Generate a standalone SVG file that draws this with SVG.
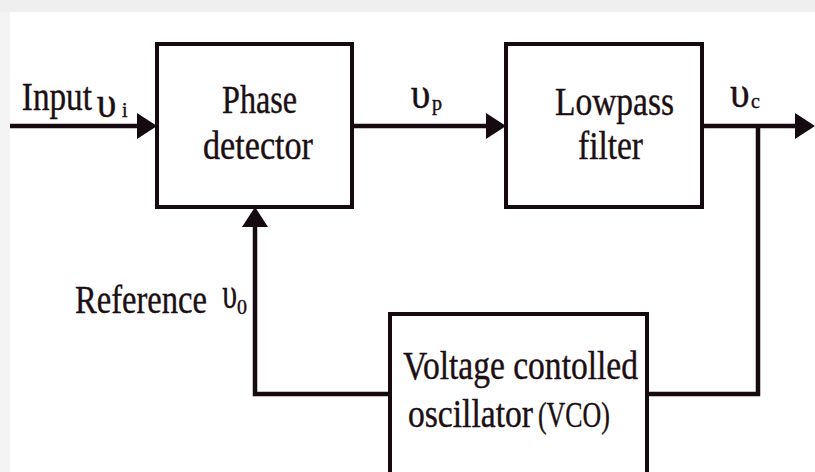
<svg xmlns="http://www.w3.org/2000/svg" width="815" height="472" viewBox="0 0 815 472">
<defs>
<style>
.box{fill:#fff;stroke:#150a10;stroke-width:4}
.wire{fill:none;stroke:#150a10;stroke-width:4.5}
.t{font-family:"Liberation Serif","Times New Roman",serif;fill:#1c0f14;stroke:#1c0f14;stroke-width:0.4}
.lbl{font-size:39px}
.big{font-size:41px}
.ups{font-size:44px}
.sub{font-size:20px}
</style>
<marker id="ah" markerUnits="userSpaceOnUse" markerWidth="21" markerHeight="27" refX="16" refY="13" orient="auto">
<path d="M0,0 L20,13 L0,26 Z" fill="#150a10"/>
</marker>
</defs>
<rect x="0" y="0" width="815" height="472" fill="#fff"/>
<rect x="0" y="0" width="815" height="12" fill="#efefef"/>
<rect x="0" y="12" width="10" height="460" fill="#f4f4f4"/>
<g id="connectors">
<path class="wire" d="M10,126 H153" marker-end="url(#ah)"/>
<path class="wire" d="M352,126 H502" marker-end="url(#ah)"/>
<path class="wire" d="M702,126 H811" marker-end="url(#ah)"/>
<path class="wire" d="M758,126 V394 H647"/>
<path class="wire" d="M390,394 H255 V211" marker-end="url(#ah)"/>
</g>
<g id="phase-detector">
<rect class="box" x="157" y="44" width="195" height="163"/>
<text class="t lbl" x="222" y="113" textLength="75" lengthAdjust="spacingAndGlyphs">Phase</text>
<text class="t lbl" x="203" y="159" textLength="110" lengthAdjust="spacingAndGlyphs">detector</text>
</g>
<g id="lowpass-filter">
<rect class="box" x="506" y="44" width="196" height="163"/>
<text class="t lbl" x="555" y="115" textLength="119" lengthAdjust="spacingAndGlyphs">Lowpass</text>
<text class="t lbl" x="578" y="159" textLength="65" lengthAdjust="spacingAndGlyphs">filter</text>
</g>
<g id="vco">
<rect class="box" x="390" y="314" width="257" height="180"/>
<text class="t lbl" x="403" y="379" textLength="235" lengthAdjust="spacingAndGlyphs">Voltage contolled</text>
<text class="t lbl" transform="scale(0.862,1)" x="473.3" y="427">oscillator</text>
<text class="t" font-size="36" transform="scale(0.72,1)" x="747.2" y="427">(VCO)</text>
</g>
<g id="labels">
<text class="t big" transform="scale(0.81,1)" x="27" y="110">Input</text>
<text class="t ups" transform="scale(0.9,1)" x="107.5" y="117">υ</text>
<text class="t sub" x="122" y="117">i</text>
<text class="t ups" transform="scale(0.9,1)" x="456.5" y="108">υ</text>
<text class="t sub" x="432" y="110">p</text>
<text class="t ups" transform="scale(0.9,1)" x="811" y="107">υ</text>
<text class="t sub" x="751" y="108">c</text>
<text class="t big" transform="scale(0.795,1)" x="94.3" y="313">Reference</text>
<text class="t ups" transform="scale(0.68,1)" x="327" y="308">υ</text>
<text class="t sub" x="237" y="314">0</text>
</g>
</svg>
